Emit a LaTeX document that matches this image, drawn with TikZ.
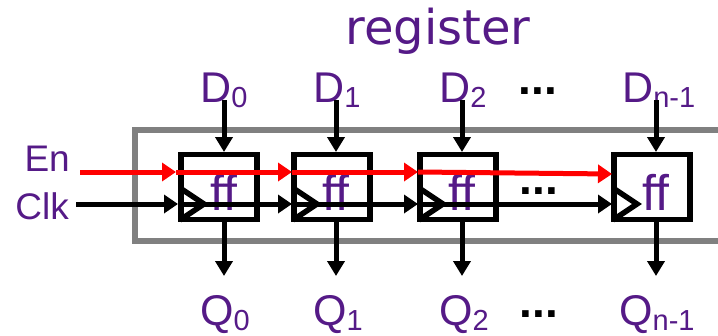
\documentclass[tikz,border=0pt]{standalone}
\usepackage{fontspec}
\setmainfont{Liberation Sans}
\newfontfamily\verd{DejaVu Sans}
\usetikzlibrary{arrows.meta}
\definecolor{lbl}{HTML}{551A87}
\definecolor{frame}{HTML}{808080}
\tikzset{
  ffbox/.style={draw=black,line width=5.5pt,fill=none,minimum width=76pt,minimum height=65pt,inner sep=0pt},
  fftext/.style={text=lbl,font=\fontsize{50}{50}\selectfont,inner sep=0pt,anchor=base},
  lab/.style={text=lbl,font=\fontsize{43}{43}\selectfont,inner sep=0pt,anchor=base west},
  side/.style={text=lbl,font=\fontsize{37}{37}\selectfont,inner sep=0pt,anchor=base east},
  conn/.style={line width=5pt,-{Triangle[length=14pt,width=18pt]}},
  redconn/.style={conn,draw=red},
  vert/.style={line width=5pt,-{Triangle[length=15pt,width=17pt]}},
  tri/.style={line width=5.5pt,line join=miter},
  dots/.style={font=\bfseries\fontsize{46}{46}\selectfont,inner sep=0pt,anchor=base}
}
\newcommand{\lowsub}[1]{{\fontsize{29}{29}\selectfont\raisebox{-5pt}{#1}}}
\begin{document}
\begin{tikzpicture}[x=1pt,y=-1pt]
\useasboundingbox (0,0) rectangle (718,335);
\draw[draw=frame,line width=6pt] (725,130) -- (135,130) -- (135,241) -- (725,241);
\node[text=lbl,font=\verd\fontsize{48}{48}\selectfont,inner sep=0pt,anchor=base] (title) at (438,44) {register};
\foreach \n/\x/\t in {0/219/224,1/332/336,2/458/462,3/652/656}{
  \node[ffbox] (ff\n) at (\x,187) {};
  \node[fftext] (ffl\n) at (\t,210) {ff};
}
\foreach \n/\x/\s/\dx/\qx in {0/224/0/200/200,1/336/1/313/313,2/462/2/439/439,3/656/{n-1}/622/619}{
  \node[lab] (D\n) at (\dx,102) {D\lowsub{\s}};
  \node[lab] (Q\n) at (\qx,325) {Q\lowsub{\s}};
  \coordinate (dt\n) at (\x,100);
  \coordinate (qb\n) at (\x,276);
  \coordinate (dh\n) at (\x,152);
  \coordinate (qh\n) at (\x,222);
  \draw[vert] (dt\n) -- (dh\n);
  \draw[vert] (qh\n) -- (qb\n);
}
\foreach \n/\x in {0/180,1/293,2/419,3/613}{
  \draw[tri] (\x,188) -- (\x+24,204) -- (\x,220);
}
\node[side] (En) at (70,171) {En};
\node[side] (Clk) at (69,219) {Clk};
\coordinate (ck0) at (76,204);
\coordinate (ck1) at (178,204);
\coordinate (ck2) at (292,204);
\coordinate (ck3) at (418,204);
\coordinate (ck4) at (612,204);
\draw[conn] (ck0) -- (ck1);
\draw[conn] (ck1) -- (ck2);
\draw[conn] (ck2) -- (ck3);
\draw[conn] (ck3) -- (ck4);
\coordinate (e0) at (80,172);
\coordinate (e1) at (176,172);
\coordinate (e2) at (292,172);
\coordinate (e3) at (418,172);
\coordinate (e4) at (612,174);
\draw[redconn] (e0) -- (e1);
\draw[redconn] (e1) -- (e2);
\draw[redconn] (e2) -- (e3);
\draw[redconn] (e3) -- (e4);
\node[dots] (d1) at (538,94) {...};
\node[dots] (d2) at (539,194) {...};
\node[dots] (d3) at (539,317) {...};
\end{tikzpicture}
\end{document}
